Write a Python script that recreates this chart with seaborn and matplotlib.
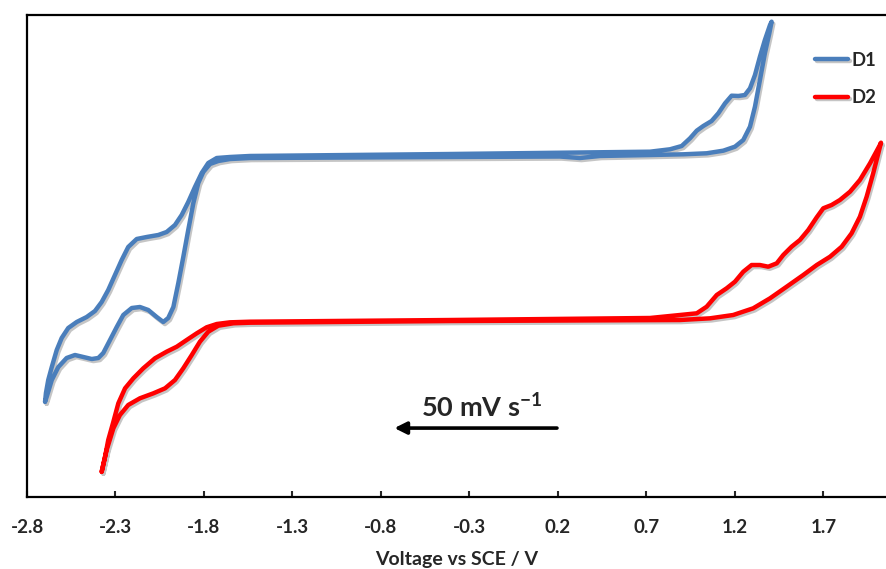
import numpy as np
import pandas as pd
import seaborn as sns
from matplotlib import pyplot as plt
import matplotlib.patheffects as pe

# cyclic voltammograms traced as closed loops (V vs SCE, current in a.u.)
# D1: anodic sweep from the negative vertex, then the cathodic return
d1_volt = [-2.698, -2.693, -2.680, -2.660, -2.632, -2.604, -2.567, -2.519, -2.463, -2.416,
           -2.378, -2.341, -2.303, -2.265, -2.228, -2.180, -2.124, -2.058, -2.011, -1.964,
           -1.926, -1.889, -1.851, -1.813, -1.776, -1.728, -1.653, -1.540, -0.410, 0.720,
           0.833, 0.899, 0.946, 0.984, 1.021, 1.068, 1.106, 1.144, 1.181, 1.219,
           1.256, 1.285, 1.313, 1.341, 1.369, 1.398, 1.407,
           1.394, 1.369, 1.341, 1.313, 1.285, 1.247, 1.200, 1.134, 1.040, 0.908,
           0.720, 0.437, 0.324, 0.211, -0.410, -1.540, -1.653, -1.719, -1.766, -1.804,
           -1.832, -1.860, -1.889, -1.917, -1.945, -1.973, -2.002, -2.030, -2.067, -2.115,
           -2.162, -2.208, -2.256, -2.293, -2.331, -2.369, -2.397, -2.434, -2.482, -2.529,
           -2.576, -2.623, -2.660, -2.689, -2.698]
d1_curr = [19.77, 21.58, 24.27, 26.97, 30.50, 32.99, 35.06, 36.31, 37.34, 38.59,
           40.46, 42.95, 46.06, 49.17, 51.87, 53.53, 53.94, 54.36, 54.98, 56.43,
           58.51, 61.20, 64.32, 67.22, 69.29, 70.33, 70.54, 70.75, 71.16, 71.64,
           72.14, 72.82, 74.42, 76.00, 76.97, 78.01, 79.61, 81.68, 83.26, 83.20,
           83.40, 84.79, 87.55, 91.35, 94.81, 97.93, 98.61,
           96.20, 92.05, 86.51, 80.98, 76.83, 74.07, 72.68, 71.85, 71.31, 71.10,
           70.95, 70.75, 70.33, 70.64, 70.54, 70.33, 70.12, 69.71, 69.09, 67.43,
           65.15, 61.00, 55.39, 49.79, 44.40, 39.42, 37.14, 36.31, 37.34, 38.80,
           39.42, 39.21, 37.76, 35.27, 32.57, 29.88, 28.84, 28.63, 29.05, 29.46,
           28.84, 26.97, 24.27, 20.75, 19.77]

d2_volt = [-2.378, -2.359, -2.341, -2.312, -2.284, -2.246, -2.199, -2.143, -2.077, -2.011,
           -1.954, -1.898, -1.841, -1.785, -1.728, -1.653, -1.540, -0.410, 0.720, 0.889,
           0.984, 1.040, 1.097, 1.153, 1.200, 1.247, 1.294, 1.341, 1.388, 1.436,
           1.473, 1.520, 1.567, 1.614, 1.662, 1.699, 1.746, 1.793, 1.850, 1.906,
           1.963, 2.019, 2.025,
           2.010, 1.981, 1.944, 1.906, 1.859, 1.803, 1.737, 1.662, 1.586, 1.492,
           1.398, 1.303, 1.190, 1.059, 0.889, -0.410, -1.540, -1.634, -1.719, -1.776,
           -1.823, -1.869, -1.917, -1.964, -2.020, -2.086, -2.162, -2.228, -2.275, -2.312,
           -2.350, -2.378]
d2_curr = [5.25, 8.36, 11.83, 15.62, 19.44, 22.55, 24.63, 26.70, 28.78, 30.15,
           31.18, 32.57, 33.96, 35.21, 35.89, 36.24, 36.37, 36.72, 37.14, 37.76,
           38.11, 39.48, 41.91, 43.30, 44.67, 46.74, 48.13, 48.13, 47.78, 48.48,
           50.21, 51.93, 53.32, 55.39, 58.03, 59.90, 60.58, 61.62, 63.34, 65.77,
           69.23, 73.03, 73.51,
           71.31, 67.16, 62.30, 58.15, 54.71, 51.93, 49.85, 48.13, 46.06, 43.63,
           41.22, 39.15, 37.76, 37.07, 36.72, 36.51, 36.16, 36.04, 35.54, 34.29,
           32.22, 29.46, 26.70, 24.27, 22.55, 21.51, 20.48, 19.09, 17.01, 14.25,
           9.75, 5.25]

xticks = [-2.8, -2.3, -1.8, -1.3, -0.8, -0.3, 0.2, 0.7, 1.2, 1.7]

df = pd.concat([
    pd.DataFrame({'V': d1_volt, 'I': d1_curr, 'sample': 'D1'}),
    pd.DataFrame({'V': d2_volt, 'I': d2_curr, 'sample': 'D2'}),
], ignore_index=True)

sns.set_style('ticks')
plt.rcParams['font.family'] = ['Lato', 'DejaVu Sans']
plt.rcParams['font.weight'] = 'bold'
plt.rcParams['axes.labelweight'] = 'bold'
plt.rcParams['mathtext.fontset'] = 'custom'
plt.rcParams['mathtext.bf'] = 'Lato:bold'
plt.rcParams['mathtext.rm'] = 'Lato:bold'
plt.rcParams['mathtext.default'] = 'bf'

fig = plt.figure(figsize=(8.87, 5.69), dpi=100)
ax = fig.add_axes([27 / 887, 1 - 497 / 569, 1 - 27 / 887, 482 / 569])

sns.lineplot(data=df, x='V', y='I', hue='sample', sort=False, estimator=None,
             palette={'D1': '#4A7EBB', 'D2': '#FF0000'}, linewidth=3.2, ax=ax)
for line in ax.get_lines():
    line.set_path_effects([pe.SimpleLineShadow(offset=(1.2, -1.5), shadow_color='gray', alpha=0.45),
                           pe.Normal()])
    line.set_solid_capstyle('round')
    line.set_solid_joinstyle('round')

ax.set_xlim(-2.8, 2.059)
ax.set_ylim(0, 100)
ax.set_xticks(xticks)
ax.set_xticklabels([f'{t:.1f}' for t in xticks], fontweight='bold')
ax.set_yticks([])
ax.tick_params(axis='x', direction='in', length=4, width=1.5, pad=16, labelsize=13.5)
ax.set_xlabel('Voltage vs SCE / V', fontsize=14, fontweight='bold', labelpad=11)
ax.set_ylabel('')
for s in ['left', 'bottom', 'top']:
    ax.spines[s].set_linewidth(1.6)
    ax.spines[s].set_color('black')
ax.spines['right'].set_visible(False)

leg = ax.legend(loc='upper left', bbox_to_anchor=(0.9077, 0.939), frameon=False,
                handlelength=1.8, handletextpad=0.2, labelspacing=1.1,
                prop={'weight': 'bold', 'size': 13.3}, borderaxespad=0)
for h in leg.get_lines():
    h.set_linewidth(3.2)

ax.annotate('', xy=(-0.74, 14.3), xytext=(0.21, 14.3),
            arrowprops=dict(arrowstyle='-|>', lw=2.6, color='black', mutation_scale=18))
ax.text(-0.23, 18.6, '50 mV s$^{-1}$', fontsize=19.5, fontweight='bold',
        ha='center', va='center')

fig.savefig('out.png', dpi=100)
